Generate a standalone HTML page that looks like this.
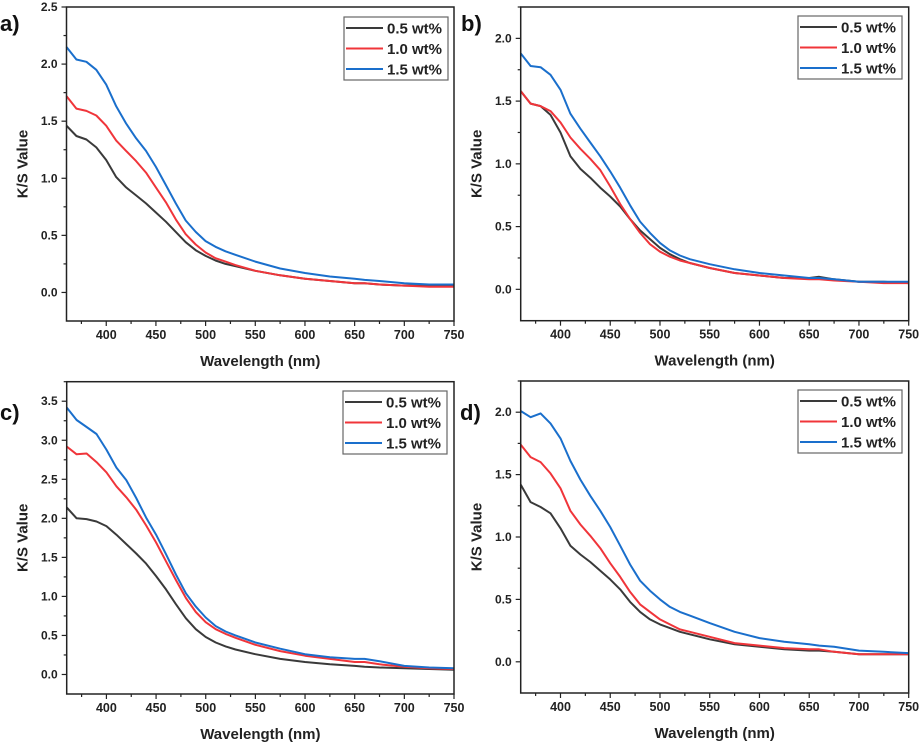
<!DOCTYPE html>
<html><head><meta charset="utf-8"><style>
body{margin:0;background:#fff;width:920px;height:746px;overflow:hidden}
svg{display:block;font-family:"Liberation Sans",Arial,sans-serif}
</style></head><body>
<svg id="fig" width="920" height="746" xmlns="http://www.w3.org/2000/svg"></svg>
<script>
const wavelengths=[360,370,380,390,400,410,420,430,440,450,460,470,480,490,500,510,520,530,550,575,600,625,650,660,675,700,725,750];
const seriesNames=["0.5 wt%","1.0 wt%","1.5 wt%"];
const aBlack=[1.46,1.37,1.34,1.27,1.16,1.01,0.92,0.85,0.78,0.70,0.62,0.53,0.44,0.37,0.32,0.28,0.25,0.23,0.19,0.15,0.12,0.10,0.08,0.08,0.07,0.06,0.06,0.06];
const aRed=[1.72,1.61,1.59,1.55,1.46,1.33,1.24,1.15,1.05,0.92,0.79,0.64,0.51,0.42,0.35,0.30,0.27,0.24,0.19,0.15,0.12,0.10,0.08,0.08,0.07,0.06,0.05,0.05];
const aBlue=[2.15,2.04,2.02,1.95,1.82,1.63,1.48,1.35,1.24,1.10,0.94,0.78,0.63,0.53,0.45,0.40,0.36,0.33,0.27,0.21,0.17,0.14,0.12,0.11,0.10,0.08,0.07,0.07];
const bBlack=[1.58,1.48,1.46,1.39,1.25,1.06,0.96,0.89,0.81,0.74,0.66,0.56,0.47,0.40,0.33,0.28,0.24,0.21,0.17,0.13,0.11,0.09,0.09,0.10,0.08,0.06,0.06,0.05];
const bRed=[1.58,1.48,1.46,1.42,1.33,1.21,1.12,1.04,0.95,0.82,0.68,0.56,0.45,0.36,0.30,0.26,0.23,0.21,0.17,0.13,0.11,0.09,0.08,0.08,0.07,0.06,0.05,0.05];
const bBlue=[1.88,1.78,1.77,1.71,1.59,1.40,1.28,1.17,1.06,0.94,0.81,0.67,0.54,0.45,0.37,0.31,0.27,0.24,0.20,0.16,0.13,0.11,0.09,0.09,0.08,0.06,0.06,0.06];
const cBlack=[2.14,2.00,1.99,1.96,1.90,1.79,1.67,1.55,1.42,1.26,1.09,0.90,0.72,0.58,0.48,0.41,0.36,0.32,0.26,0.20,0.16,0.13,0.11,0.10,0.09,0.08,0.07,0.06];
const cRed=[2.92,2.82,2.83,2.72,2.59,2.41,2.27,2.11,1.91,1.69,1.45,1.21,0.98,0.80,0.67,0.58,0.52,0.47,0.38,0.30,0.24,0.20,0.16,0.16,0.13,0.10,0.08,0.07];
const cBlue=[3.42,3.26,3.17,3.08,2.88,2.65,2.49,2.26,2.01,1.79,1.54,1.28,1.04,0.87,0.73,0.62,0.55,0.50,0.41,0.33,0.26,0.22,0.20,0.20,0.17,0.11,0.09,0.08];
const dBlack=[1.42,1.28,1.24,1.19,1.07,0.93,0.86,0.80,0.73,0.66,0.58,0.48,0.40,0.34,0.30,0.27,0.24,0.22,0.18,0.14,0.12,0.10,0.09,0.09,0.08,0.06,0.06,0.06];
const dRed=[1.74,1.64,1.60,1.51,1.39,1.21,1.10,1.01,0.91,0.79,0.68,0.56,0.46,0.40,0.34,0.30,0.26,0.24,0.20,0.15,0.13,0.11,0.10,0.10,0.08,0.06,0.06,0.06];
const dBlue=[2.01,1.96,1.99,1.91,1.79,1.61,1.46,1.33,1.21,1.08,0.93,0.78,0.65,0.57,0.50,0.44,0.40,0.37,0.31,0.24,0.19,0.16,0.14,0.13,0.12,0.09,0.08,0.07];
const xTicks=[400,450,500,550,600,650,700,750];
const yTicksA=[0,0.5,1,1.5,2,2.5];
const yTicksB=[0,0.5,1,1.5,2];
const yTicksC=[0,0.5,1,1.5,2,2.5,3,3.5];
const colors=["#3a3a3a","#f0353a","#1a6fcc"];

const NS="http://www.w3.org/2000/svg";
const svg=document.getElementById('fig');
function mk(tag,attrs,parent,text){const e=document.createElementNS(NS,tag);for(const k in attrs)e.setAttribute(k,attrs[k]);if(text!==undefined)e.textContent=text;parent.appendChild(e);return e;}

const panels=[
 {id:'a',L:66.5,R:454,T:7,B:321,ymin:-0.25,ymax:2.5,yt:yTicksA,data:[aBlack,aRed,aBlue],lab:[0,31],leg:[344,17]},
 {id:'b',L:520.7,R:908.7,T:7,B:320.7,ymin:-0.25,ymax:2.25,yt:yTicksB,data:[bBlack,bRed,bBlue],lab:[461,31],leg:[798,16]},
 {id:'c',L:66.7,R:454,T:381.7,B:694,ymin:-0.25,ymax:3.75,yt:yTicksC,data:[cBlack,cRed,cBlue],lab:[0,420],leg:[343,391]},
 {id:'d',L:520.7,R:908.7,T:381,B:693,ymin:-0.25,ymax:2.25,yt:yTicksB,data:[dBlack,dRed,dBlue],lab:[460,420],leg:[798,390]}
];
panels.forEach(p=>{
 const g=mk('g',{},svg);
 
 
 const xs=v=>p.L+(v-360)/(750-360)*(p.R-p.L);
 const ys=v=>p.B-(v-p.ymin)/(p.ymax-p.ymin)*(p.B-p.T);
 // series
 p.data.forEach((arr,si)=>{
  const d=arr.map((v,i)=>(i?'L':'M')+xs(wavelengths[i]).toFixed(1)+' '+ys(v).toFixed(1)).join(' ');
  const pl=mk('path',{d:d,fill:'none',stroke:colors[si],'stroke-width':2,'stroke-linejoin':'round'},g);
  
  
 });
 // frame
 const fr=mk('rect',{x:p.L,y:p.T,width:p.R-p.L,height:p.B-p.T,fill:'none',stroke:'#222','stroke-width':1.5},g);
 
 
 // x ticks
 for(let v=375;v<=750;v+=25){const x=xs(v);const maj=v%50===0;mk('line',{x1:x,x2:x,y1:p.B,y2:p.B+(maj?5:3),stroke:'#222','stroke-width':1.2},g);}
 xTicks.forEach(v=>{const t=mk('text',{x:xs(v),y:p.B+18,'text-anchor':'middle','font-size':12.5,'font-weight':'bold',fill:'#222'},g,String(v));
  });
 // y ticks
 for(let v=p.ymin+0.25;v<p.ymax+0.001;v+=0.25){const y=ys(v);const maj=Math.abs(v*2-Math.round(v*2))<0.01;mk('line',{x1:p.L,x2:p.L-(maj?5:3),y1:y,y2:y,stroke:'#222','stroke-width':1.2},g);}
 p.yt.forEach(v=>{const t=mk('text',{x:p.L-9,y:ys(v)+4,'text-anchor':'end','font-size':12,'font-weight':'bold',fill:'#222'},g,v.toFixed(1));
  });
 // titles
 const xt=mk('text',{x:(p.L+p.R)/2,y:p.B+45,'text-anchor':'middle','font-size':15,'font-weight':'bold',fill:'#222'},g,'Wavelength (nm)');
 
 const cy=(p.T+p.B)/2, cx=p.L-39;
 const yt=mk('text',{x:cx,y:cy,'text-anchor':'middle','font-size':15,'font-weight':'bold',fill:'#222',transform:`rotate(-90 ${cx} ${cy})`},g,'K/S Value');
 
 const pl=mk('text',{x:p.lab[0],y:p.lab[1],'font-size':22,'font-weight':'bold',fill:'#111'},g,p.id+')');
 
 // legend
 const lg=mk('g',{},g);
 
 
 const [lx,ly]=p.leg;
 mk('rect',{x:lx,y:ly,width:104,height:63,fill:'#fff',stroke:'#666','stroke-width':1.2},lg);
 seriesNames.forEach((n,i)=>{const yy=ly+11+i*20.5;
  mk('line',{x1:lx+2,x2:lx+39,y1:yy,y2:yy,stroke:colors[i],'stroke-width':2},lg);
  const t=mk('text',{x:lx+43,y:yy+5.5,'font-size':15,'font-weight':'bold',fill:'#222'},lg,n);
  });
});
</script>
</body></html>
